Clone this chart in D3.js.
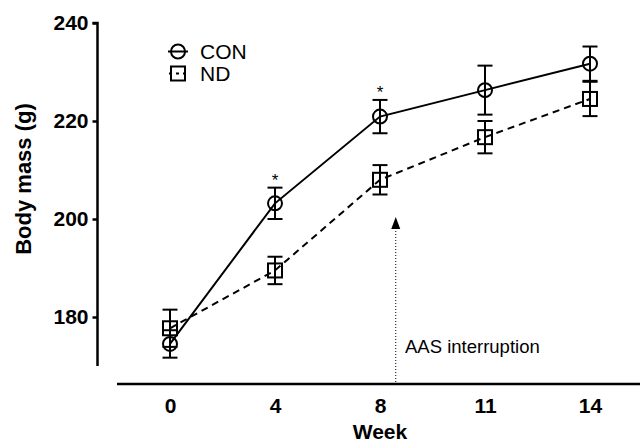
<!DOCTYPE html>
<html>
<head>
<meta charset="utf-8">
<script src="https://cdn.jsdelivr.net/npm/d3@7"></script>
<style>
    body { margin: 0; background: #fff; }
    text { font-family: Arial, "Liberation Sans", Helvetica, sans-serif; }
</style>
</head>
<body>
<div id="chart"></div>
<script>
var weeks = ["0", "4", "8", "11", "14"];
var conMean = [174.5, 203.2, 220.9, 226.3, 231.7];
var conSE = [2.8, 3.2, 3.4, 5.0, 3.5];
var ndMean = [177.7, 189.5, 208.0, 216.7, 224.5];
var ndSE = [3.8, 2.8, 3.0, 3.3, 3.5];
var starWeeks = ["4", "8"];
var yTicks = [180, 200, 220, 240];

var width = 640, height = 443;

var svg = d3.select("#chart").append("svg")
    .attr("width", width)
    .attr("height", height);

var y = d3.scaleLinear().domain([170, 240]).range([366, 23]);
var x = d3.scalePoint().domain(weeks).range([170, 590]);

// y axis
var yAxis = svg.append("g")
    .attr("transform", "translate(97.5,0)")
    .call(d3.axisLeft(y).tickValues(yTicks).tickSize(5).tickPadding(4));
yAxis.select(".domain").attr("stroke", "#000").attr("stroke-width", 2.5)
    .attr("d", "M0," + y(170) + "V" + y(240) + "H-5");
yAxis.selectAll(".tick line").attr("stroke-width", 2.5);
yAxis.selectAll(".tick text")
    .attr("font-size", 21).attr("font-weight", "bold").attr("fill", "#000")
    .attr("font-family", "Arial, 'Liberation Sans', sans-serif");

// x axis (no ticks)
var xAxis = svg.append("g")
    .attr("transform", "translate(0,384)")
    .call(d3.axisBottom(x).tickSize(0).tickPadding(14));
xAxis.select(".domain").attr("stroke", "#000").attr("stroke-width", 2.5)
    .attr("d", "M117,0H640");
xAxis.selectAll(".tick text")
    .attr("font-size", 21).attr("font-weight", "bold").attr("fill", "#000")
    .attr("font-family", "Arial, 'Liberation Sans', sans-serif");

svg.append("text")
    .attr("x", x("8")).attr("y", 439)
    .attr("text-anchor", "middle")
    .attr("font-size", 21).attr("font-weight", "bold")
    .text("Week");

svg.append("text")
    .attr("transform", "translate(31,179) rotate(-90)")
    .attr("text-anchor", "middle")
    .attr("font-size", 22).attr("font-weight", "bold")
    .text("Body mass (g)");

// AAS interruption arrow
var arrowX = x("8") + 0.15 * x.step();
svg.append("line")
    .attr("x1", arrowX).attr("x2", arrowX)
    .attr("y1", 382).attr("y2", 228)
    .attr("stroke", "#000").attr("stroke-width", 1)
    .attr("stroke-dasharray", "1,2");
svg.append("path")
    .attr("d", "M" + arrowX + ",217L" + (arrowX - 4.5) + ",229L" + (arrowX + 4.5) + ",229Z")
    .attr("fill", "#000");
svg.append("text")
    .attr("x", 405).attr("y", 353)
    .attr("font-size", 18.5)
    .text("AAS interruption");

function series(means, ses, dashed, shape) {
    var data = weeks.map(function(w, i) { return {w: w, m: means[i], se: ses[i]}; });
    var g = svg.append("g");
    g.append("path")
        .datum(data)
        .attr("fill", "none")
        .attr("stroke", "#000")
        .attr("stroke-width", 2)
        .attr("stroke-dasharray", dashed ? "7,5" : null)
        .attr("d", d3.line().x(function(d) { return x(d.w); }).y(function(d) { return y(d.m); }));

    var eb = g.selectAll(".eb").data(data).enter().append("g");
    eb.append("line")
        .attr("x1", function(d) { return x(d.w); })
        .attr("x2", function(d) { return x(d.w); })
        .attr("y1", function(d) { return y(d.m + d.se); })
        .attr("y2", function(d) { return y(d.m - d.se); })
        .attr("stroke", "#000").attr("stroke-width", 2);
    [1, -1].forEach(function(s) {
        eb.append("line")
            .attr("x1", function(d) { return x(d.w) - 7.5; })
            .attr("x2", function(d) { return x(d.w) + 7.5; })
            .attr("y1", function(d) { return y(d.m + s * d.se); })
            .attr("y2", function(d) { return y(d.m + s * d.se); })
            .attr("stroke", "#000").attr("stroke-width", 2);
    });

    if (shape === "circle") {
        eb.append("circle")
            .attr("cx", function(d) { return x(d.w); })
            .attr("cy", function(d) { return y(d.m); })
            .attr("r", 7)
            .attr("fill", "none").attr("stroke", "#000").attr("stroke-width", 2);
    } else {
        eb.append("rect")
            .attr("x", function(d) { return x(d.w) - 7; })
            .attr("y", function(d) { return y(d.m) - 7; })
            .attr("width", 14).attr("height", 14)
            .attr("fill", "none").attr("stroke", "#000").attr("stroke-width", 2);
    }
}

series(ndMean, ndSE, true, "square");
series(conMean, conSE, false, "circle");

// significance stars
starWeeks.forEach(function(w) {
    var i = weeks.indexOf(w);
    svg.append("text")
        .attr("x", x(w)).attr("y", y(conMean[i] + conSE[i]) - 2)
        .attr("text-anchor", "middle")
        .attr("font-size", 17)
        .text("*");
});

// legend
var legend = svg.append("g");
legend.append("line").attr("x1", 168).attr("x2", 188).attr("y1", 51.5).attr("y2", 51.5)
    .attr("stroke", "#000").attr("stroke-width", 2);
legend.append("circle").attr("cx", 178).attr("cy", 51.5).attr("r", 7)
    .attr("fill", "none").attr("stroke", "#000").attr("stroke-width", 2);
legend.append("line").attr("x1", 168).attr("x2", 188).attr("y1", 73.5).attr("y2", 73.5)
    .attr("stroke", "#000").attr("stroke-width", 2).attr("stroke-dasharray", "3,4").attr("stroke-dashoffset", -1);
legend.append("rect").attr("x", 171).attr("y", 66.5).attr("width", 14).attr("height", 14)
    .attr("fill", "none").attr("stroke", "#000").attr("stroke-width", 2);
legend.append("text").attr("x", 200).attr("y", 59).attr("font-size", 21).text("CON");
legend.append("text").attr("x", 200).attr("y", 81).attr("font-size", 21).text("ND");
</script>
</body>
</html>
